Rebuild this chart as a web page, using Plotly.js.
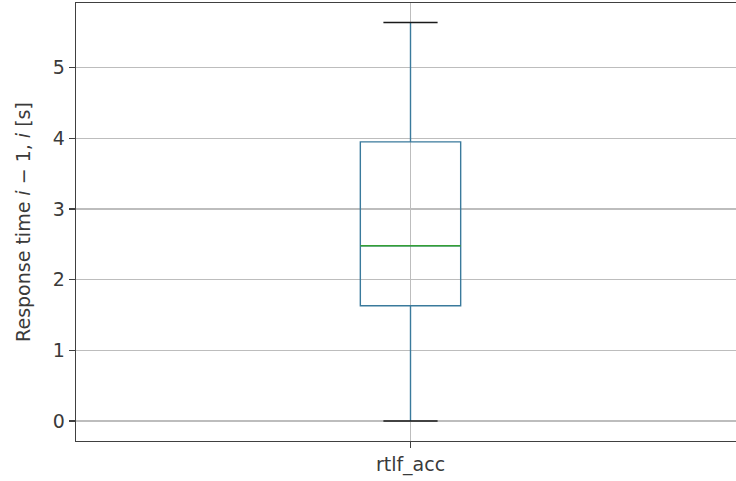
<!DOCTYPE html>
<html>
<head>
<meta charset="utf-8">
<script src="https://cdn.plot.ly/plotly-3.0.1.min.js"></script>
<style>html,body{margin:0;padding:0;background:#fff;overflow:hidden}#chart{width:800px;height:481px}</style>
</head>
<body>
<div id="chart"></div>
<script>
// Data
const categories = ["rtlf_acc"];
const positions = [1];
const q1 = [1.63];
const median = [2.48];
const q3 = [3.95];
const lowerFence = [0.0];
const upperFence = [5.64];

const boxWidth = 0.15;
const capFrac = 0.54;
const boxColor = "#3a7a9c";
const medianColor = "#34a034";
const capColor = "#1a1a1a";

const traces = [{
  type: "box",
  x: positions,
  q1: q1, median: median, q3: q3,
  lowerfence: lowerFence, upperfence: upperFence,
  width: boxWidth,
  whiskerwidth: 0,
  fillcolor: "rgba(0,0,0,0)",
  line: {color: boxColor, width: 1.4},
  boxpoints: false,
  hoverinfo: "skip",
  showlegend: false
}];
// median line and caps (through data coordinates)
positions.forEach((p, i) => {
  traces.push({type: "scatter", mode: "lines", x: [p - boxWidth/2, p + boxWidth/2], y: [median[i], median[i]],
    line: {color: medianColor, width: 1.4}, showlegend: false, hoverinfo: "skip"});
  const hw = boxWidth * capFrac / 2;
  traces.push({type: "scatter", mode: "lines", x: [p - hw, p + hw], y: [upperFence[i], upperFence[i]],
    line: {color: capColor, width: 1.5}, showlegend: false, hoverinfo: "skip"});
  traces.push({type: "scatter", mode: "lines", x: [p - hw, p + hw], y: [lowerFence[i], lowerFence[i]],
    line: {color: capColor, width: 1.5}, showlegend: false, hoverinfo: "skip"});
});

const font = {family: "DejaVu Sans", size: 19, color: "#3a3a3a"};
const layout = {
  width: 800, height: 481,
  margin: {l: 76, r: 0, t: 3, b: 40},
  paper_bgcolor: "#fff", plot_bgcolor: "#fff",
  font: font,
  showlegend: false,
  xaxis: {
    range: [0.5, 0.5 + 724/669],
    tickmode: "array", tickvals: positions, ticktext: categories,
    showgrid: true, gridcolor: "#bdbdbd", gridwidth: 1.2,
    zeroline: false,
    showline: true, linecolor: "#404040", linewidth: 1.4, mirror: true,
    ticks: "outside", ticklen: 6, tickcolor: "#404040", tickwidth: 1.2,
    tickfont: font
  },
  yaxis: {
    range: [-0.284, 5.915],
    tickvals: [0, 1, 2, 3, 4, 5],
    showgrid: true, gridcolor: "#bdbdbd", gridwidth: 1.2,
    zeroline: false,
    showline: true, linecolor: "#404040", linewidth: 1.4, mirror: false,
    ticks: "outside", ticklen: 6, tickcolor: "#404040", tickwidth: 1.2,
    tickfont: font,
    title: {text: "Response time <i>i</i> − 1, <i>i</i> [s]", font: {family: "DejaVu Sans", size: 19, color: "#3a3a3a"}, standoff: 17}
  }
};
Plotly.newPlot("chart", traces, layout, {staticPlot: true, displayModeBar: false});
</script>
</body>
</html>
